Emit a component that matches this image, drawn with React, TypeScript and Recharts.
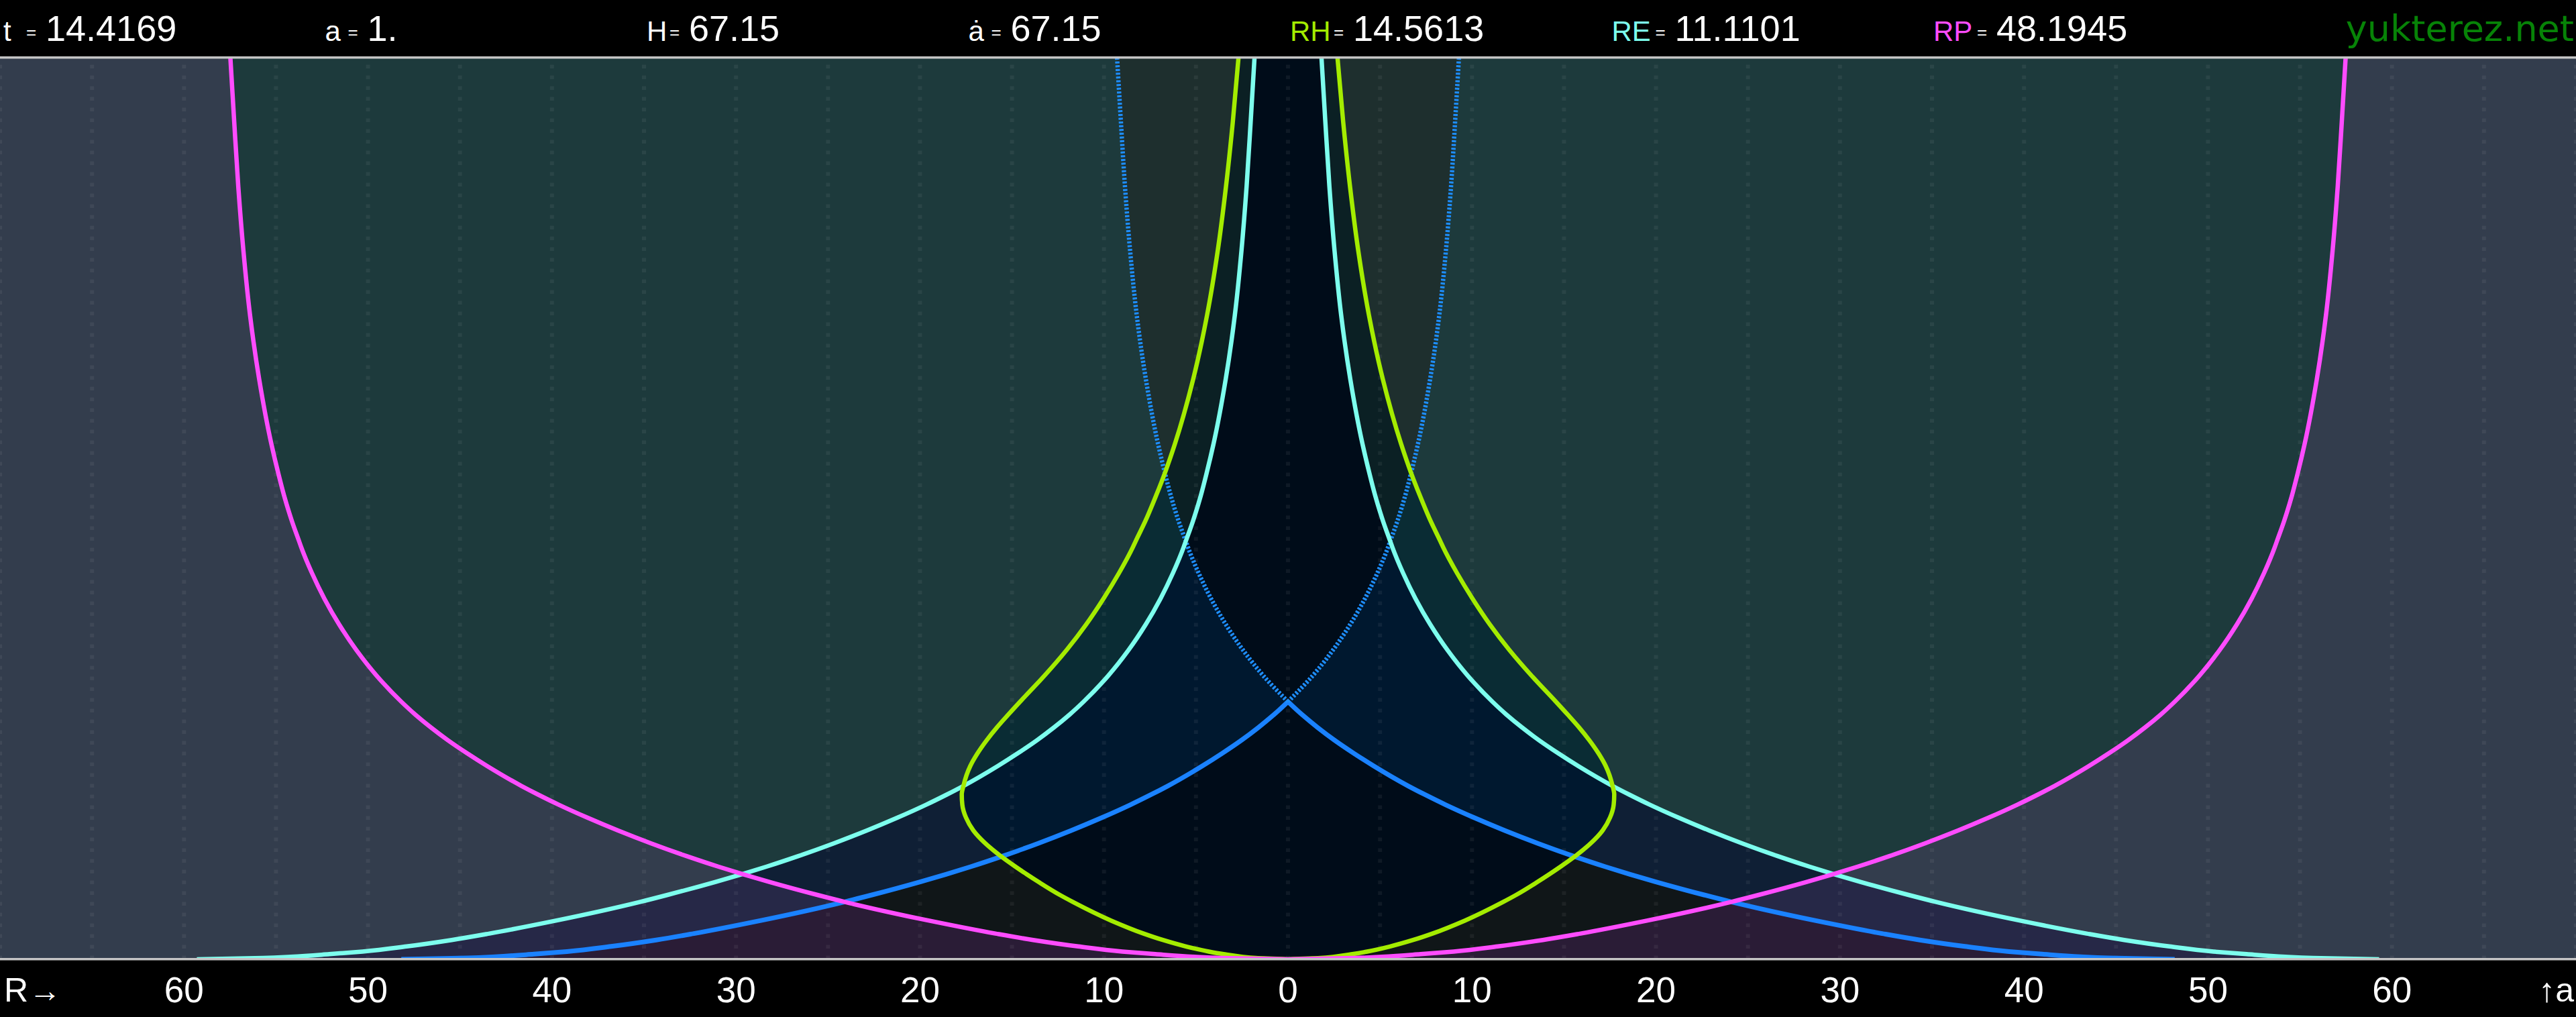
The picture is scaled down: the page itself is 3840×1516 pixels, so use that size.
import React from 'react';
import {
  ComposedChart,
  Area,
  Line,
  XAxis,
  YAxis,
  CartesianGrid,
  ReferenceLine,
} from 'recharts';

// scale factor a (vertical axis) and the comoving radii, in Gly
const SCALE_A = [
  0, 0.005, 0.01, 0.02, 0.03, 0.05, 0.075, 0.1, 0.15, 0.223,
  0.25, 0.3, 0.33, 0.36, 0.4, 0.45, 0.5, 0.55, 0.6, 0.64,
  0.673, 0.75, 0.8, 0.85, 0.9, 0.95, 1.0,
  1.1, 1.2, 1.3, 1.4, 1.5, 1.6, 1.623, 1.7, 1.8, 1.888,
  2.0, 2.25, 2.5, 2.75, 3.0, 3.25, 3.5,
];
const PARTICLE_R = [
  0, 3.6, 5.1, 7.2, 9.0, 11.4, 13.85, 15.9, 19.5, 24.1,
  25.58, 28.16, 29.6, 30.97, 32.66, 34.61, 36.41, 38.08, 39.63, 40.77,
  41.66, 43.52, 44.62, 45.65, 46.58, 47.43, 48.19,
  49.52, 50.63, 51.57, 52.37, 53.05, 53.63, 53.745, 54.13, 54.56, 54.88,
  55.25, 55.91, 56.41, 56.77, 57.05, 57.27, 57.48,
];
const EVENT_R = [
  59.3, 55.7, 54.2, 52.1, 50.3, 47.9, 45.45, 43.4, 39.8, 35.2,
  33.72, 31.14, 29.7, 28.33, 26.64, 24.69, 22.89, 21.22, 19.67, 18.53,
  17.64, 15.78, 14.68, 13.65, 12.72, 11.87, 11.11,
  9.78, 8.67, 7.73, 6.93, 6.25, 5.67, 5.555, 5.17, 4.74, 4.42,
  4.05, 3.39, 2.89, 2.53, 2.25, 2.03, 1.82,
];
const HUBBLE_R = [
  0, 1.75, 2.5, 3.5, 4.3, 5.55, 6.8, 7.85, 9.6, 11.7,
  12.4, 13.55, 14.2, 14.82, 15.6, 16.45, 17.1, 17.5, 17.7, 17.73,
  17.64, 17.27, 16.87, 16.38, 15.82, 15.2, 14.56,
  13.25, 12.04, 10.97, 10.03, 9.18, 8.43, 8.28, 7.76, 7.17, 6.69,
  6.15, 5.16, 4.4, 3.82, 3.37, 3.0, 2.69,
];
// past light cone below a = 1, future light cone above
const CONE_R = [
  48.19, 44.59, 43.09, 40.99, 39.19, 36.79, 34.34, 32.29, 28.69, 24.09,
  22.61, 20.03, 18.59, 17.22, 15.53, 13.58, 11.78, 10.11, 8.56, 7.42,
  6.53, 4.67, 3.57, 2.54, 1.61, 0.76, 0,
  1.33, 2.44, 3.38, 4.18, 4.86, 5.44, 5.555, 5.94, 6.37, 6.69,
  7.06, 7.72, 8.22, 8.58, 8.86, 9.08, 9.29,
];

const X_TICKS = [-60, -50, -40, -30, -20, -10, 0, 10, 20, 30, 40, 50, 60];
const GRID_X = [
  -70, -65, -60, -55, -50, -45, -40, -35, -30, -25, -20, -15, -10, -5, 0,
  5, 10, 15, 20, 25, 30, 35, 40, 45, 50, 55, 60, 65, 70,
];

const HEADER_LABELS = ['t', 'a', 'H', 'ȧ', 'RH', 'RE', 'RP'];
const HEADER_VALUES = ['14.4169', '1.', '67.15', '67.15', '14.5613', '11.1101', '48.1945'];
const HEADER_COLORS = ['#ffffff', '#ffffff', '#ffffff', '#ffffff', '#a4ec00', '#7dffee', '#ff4cff'];

const W = 3840;
const H = 1516;
const FONT = '"Liberation Sans", Arial, sans-serif';

type Row = { a: number; rp: number; re: number; rh: number; lc: number };

const rows: Row[] = SCALE_A.map((a, i) => ({
  a,
  rp: PARTICLE_R[i],
  re: EVENT_R[i],
  rh: HUBBLE_R[i],
  lc: CONE_R[i],
}));

const min = Math.min;
const max = Math.max;

// every region is a band |x| in (lo, hi); colour depends on which horizons contain it
const BANDS: { color: string; center?: boolean; lo: (r: Row) => number; hi: (r: Row) => number }[] = [
  { color: '#000c19', center: true, lo: () => 0, hi: (r) => min(r.rp, r.re, r.rh, r.lc) },
  { color: '#00182f', lo: (r) => r.lc, hi: (r) => min(r.rp, r.re, r.rh) },
  { color: '#101618', lo: (r) => r.rh, hi: (r) => min(r.rp, r.re, r.lc) },
  { color: '#0f1f35', lo: (r) => max(r.rh, r.lc), hi: (r) => min(r.rp, r.re) },
  { color: '#0b2024', lo: (r) => r.re, hi: (r) => min(r.rp, r.rh, r.lc) },
  { color: '#0a2c34', lo: (r) => max(r.re, r.lc), hi: (r) => min(r.rp, r.rh) },
  { color: '#1e2f2e', lo: (r) => max(r.re, r.rh), hi: (r) => min(r.rp, r.lc) },
  { color: '#1d3a3c', lo: (r) => max(r.re, r.rh, r.lc), hi: (r) => r.rp },
  { color: '#2a1c36', lo: (r) => r.rp, hi: (r) => min(r.re, r.lc) },
  { color: '#262847', lo: (r) => max(r.rp, r.lc), hi: (r) => r.re },
];

const CURVES: { key: string; color: string; width: number; dash?: string; get: (r: Row) => number | null }[] = [
  { key: 'past', color: '#1a82ff', width: 7, get: (r) => (r.a <= 1 ? r.lc : null) },
  { key: 'future', color: '#1e8fff', width: 6.5, dash: '3 2.6', get: (r) => (r.a >= 1 ? r.lc : null) },
  { key: 'event', color: '#7dffee', width: 6.5, get: (r) => r.re },
  { key: 'hubble', color: '#a4ec00', width: 6.5, get: (r) => r.rh },
  { key: 'particle', color: '#ff4cff', width: 6.5, get: (r) => r.rp },
];

export default function App() {
  const areas: React.ReactNode[] = [];
  BANDS.forEach((b, i) => {
    const common = {
      type: 'linear' as const,
      stroke: 'none',
      fill: b.color,
      fillOpacity: 1,
      dot: false,
      activeDot: false,
      isAnimationActive: false,
    };
    if (b.center) {
      areas.push(
        <Area key={`band-${i}`} {...common} dataKey={(r: Row) => { const h = b.hi(r); return [-h, h]; }} />
      );
      return;
    }
    areas.push(
      <Area
        key={`band-${i}-r`}
        {...common}
        dataKey={(r: Row) => { const lo = b.lo(r); return [lo, max(lo, b.hi(r))]; }}
      />,
      <Area
        key={`band-${i}-l`}
        {...common}
        dataKey={(r: Row) => { const lo = b.lo(r); return [-max(lo, b.hi(r)), -lo]; }}
      />
    );
  });

  const lines: React.ReactNode[] = [];
  CURVES.forEach((c) => {
    [-1, 1].forEach((s) => {
      lines.push(
        <Line
          key={`${c.key}-${s}`}
          type="monotone"
          dataKey={(r: Row) => { const v = c.get(r); return v == null ? null : s * v; }}
          stroke={c.color}
          strokeWidth={c.width}
          strokeDasharray={c.dash}
          dot={false}
          activeDot={false}
          isAnimationActive={false}
        />
      );
    });
  });

  return (
    <div style={{ position: 'absolute', left: 0, top: 0, width: W, height: H, background: '#000', overflow: 'hidden' }}>
      <ComposedChart
        width={W}
        height={H}
        data={rows}
        layout="vertical"
        margin={{ top: 86, right: 0, bottom: 0, left: 0 }}
        style={{ fontFamily: FONT }}
      >
        <CartesianGrid fill="#333d4d" stroke="none" horizontal={false} vertical={false} />
        <XAxis
          type="number"
          domain={[-70, 70]}
          ticks={X_TICKS}
          tickFormatter={(v: number) => String(Math.abs(v))}
          allowDataOverflow
          height={86}
          axisLine={false}
          tickLine={false}
          tickSize={0}
          tickMargin={26}
          interval={0}
          tick={{ fill: '#ffffff', fontSize: 53, fontFamily: FONT }}
        />
        <YAxis type="number" dataKey="a" domain={[0, 3.5]} reversed allowDataOverflow hide width={0} />
        {areas}
        {GRID_X.map((x) => (
          <ReferenceLine
            key={`g${x}`}
            x={x}
            stroke="rgba(255,255,255,0.06)"
            strokeWidth={6}
            strokeDasharray="5.5 10.5"
          />
        ))}
        {lines}
      </ComposedChart>
      <svg
        width={W}
        height={H}
        style={{ position: 'absolute', left: 0, top: 0, pointerEvents: 'none' }}
        fontFamily={FONT}
      >
        <rect x={0} y={84} width={W} height={3.5} fill="#c4c4c4" />
        <rect x={0} y={1428} width={W} height={3.5} fill="#c4c4c4" />
        {HEADER_LABELS.map((label, i) => {
          const x0 = 5 + 479.5 * i;
          const eqX = x0 + (label.length === 1 ? 34 : 65);
          return (
            <g key={label}>
              <text x={x0} y={61} fontSize={42} fill={HEADER_COLORS[i]}>{label}</text>
              <text x={eqX} y={57} fontSize={26} fill="#ffffff">=</text>
              <text x={eqX + 29} y={61} fontSize={54} fill="#ffffff">{HEADER_VALUES[i]}</text>
            </g>
          );
        })}
        <text
          x={3837}
          y={61}
          fontSize={54}
          fill="#078307"
          textAnchor="end"
          fontFamily='"DejaVu Sans", sans-serif'
        >
          yukterez.net
        </text>
        <text x={6} y={1493} fontSize={50} fill="#ffffff">
          R<tspan dx={1} fontSize={48}>→</tspan>
        </text>
        <text x={3837} y={1493} fontSize={50} fill="#ffffff" textAnchor="end">↑a</text>
      </svg>
    </div>
  );
}
